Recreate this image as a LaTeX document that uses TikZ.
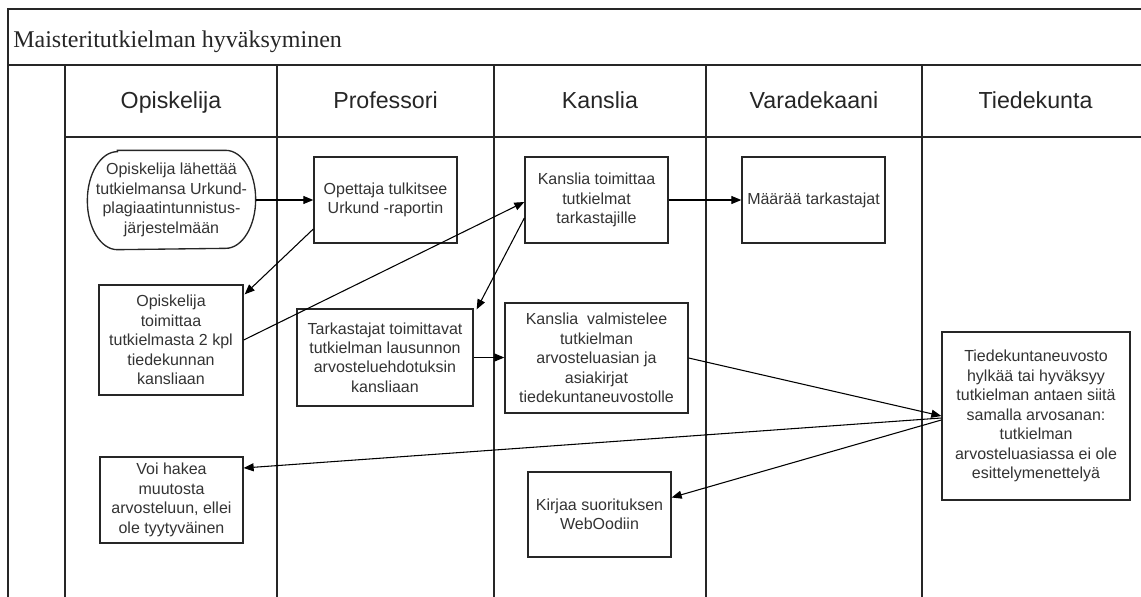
\documentclass[tikz,border=0pt]{standalone}
\usepackage{fontspec}
\setmainfont{Liberation Serif}
\newfontfamily\arialfont{Liberation Sans}
\usetikzlibrary{arrows.meta}

\begin{document}
\begin{tikzpicture}[x=0.75pt,y=-0.75pt,
  lane/.style={line width=1.5pt, draw=black!85},
  stepbox/.style={draw=black!85, line width=1pt, fill=white, align=center,
    inner sep=0pt, font=\arialfont\fontsize{12}{14.6}\selectfont, text=black!80},
  flow/.style={draw=black, line width=0.8pt, -{Triangle[length=7.5pt,width=6pt]}},
  lanehead/.style={anchor=base, inner sep=0pt, font=\arialfont\fontsize{17.4}{20}\selectfont, text=black!85},
]
\useasboundingbox (0,0) rectangle (1141,596);

% swimlane frame
\begin{scope}
  \clip (0,0) rectangle (1141,596);
  \draw[lane] (8,620) -- (8,9) -- (1170,9);
  \draw[lane] (8,64.5) -- (1170,64.5);
  \draw[lane] (65,136.5) -- (1170,136.5);
  \foreach \x in {65,277,494,706,922} \draw[lane] (\x,64.5) -- (\x,620);
\end{scope}

% title and lane headers
\node[anchor=base west, inner sep=0pt, font=\fontsize{18}{20}\selectfont, text=black!85] (title) at (13,47) {Maisteritutkielman hyväksyminen};
\node[lanehead] (h1) at (171,108) {Opiskelija};
\node[lanehead] (h2) at (385.5,108) {Professori};
\node[lanehead] (h3) at (600,108) {Kanslia};
\node[lanehead] (h4) at (814,108) {Varadekaani};
\node[lanehead] (h5) at (1035.5,108) {Tiedekunta};

% process steps
\node[stepbox, draw=none, fill=none, minimum width=125.25pt, minimum height=73.5pt] (st) at (171.5,200)
  {Opiskelija lähettää\\tutkielmansa Urkund-\\plagiaatintunnistus-\\järjestelmään};
% start/end terminal: straight top and bottom, half-elliptic ends
\draw[draw=black!85, line width=1pt]
  ([shift={(30,0)}]st.north west) -- ([shift={(-30,0)}]st.north east)
  arc[start angle=90, end angle=-90, x radius=22.5pt, y radius=36.75pt]
  -- ([shift={(30,0)}]st.south west)
  arc[start angle=270, end angle=90, x radius=22.5pt, y radius=36.75pt] -- cycle;

\node[stepbox, minimum width=107.25pt, minimum height=64.5pt] (opt) at (385.5,200)
  {Opettaja tulkitsee\\Urkund -raportin};
\node[stepbox, minimum width=107.25pt, minimum height=64.5pt] (kt) at (596.5,200)
  {Kanslia toimittaa\\tutkielmat\\tarkastajille};
\node[stepbox, minimum width=107.25pt, minimum height=64.5pt] (mt) at (813.5,200)
  {Määrää tarkastajat};
\node[stepbox, minimum width=108pt, minimum height=82.5pt] (ot) at (171,340)
  {Opiskelija\\toimittaa\\tutkielmasta 2 kpl\\tiedekunnan\\kansliaan};
\node[stepbox, minimum width=132pt, minimum height=72.75pt] (tt) at (385,357.5)
  {Tarkastajat toimittavat\\tutkielman lausunnon\\arvosteluehdotuksin\\kansliaan};
\node[stepbox, minimum width=137.25pt, minimum height=82.5pt] (kv) at (596.5,358)
  {Kanslia\ \ valmistelee\\tutkielman\\arvosteluasian ja\\asiakirjat\\tiedekuntaneuvostolle};
\node[stepbox, minimum width=141pt, minimum height=126pt] (td) at (1036,416)
  {Tiedekuntaneuvosto\\hylkää tai hyväksyy\\tutkielman antaen siitä\\samalla arvosanan:\\tutkielman\\arvosteluasiassa ei ole\\esittelymenettelyä};
\node[stepbox, minimum width=107.25pt, minimum height=64.5pt] (vh) at (171.5,500)
  {Voi hakea\\muutosta\\arvosteluun, ellei\\ole tyytyväinen};
\node[stepbox, minimum width=107.25pt, minimum height=63.75pt] (kj) at (599.5,514.5)
  {Kirjaa suorituksen\\WebOodiin};

% connectors
\draw[flow] (st.east) -- (st.east -| opt.west);
\draw[flow] ([shift={(0,29)}]opt.west) -- ([shift={(1,10)}]ot.north east);
\draw[flow] (ot.east) -- ([shift={(0,2)}]kt.west);
\draw[flow] ([shift={(0,18)}]kt.west) -- ([shift={(3,1)}]tt.north east);
\draw[flow] (kt.east) -- (mt.west);
\draw[flow] (tt.east) -- (tt.east -| kv.west);
\draw[flow] (kv.east) -- (td.west);
\draw[flow] ([shift={(0,2)}]td.west) -- ([shift={(0,-32)}]vh.east);
\draw[flow] ([shift={(0,4)}]td.west) -- ([shift={(0,-17)}]kj.east);
\end{tikzpicture}
\end{document}
